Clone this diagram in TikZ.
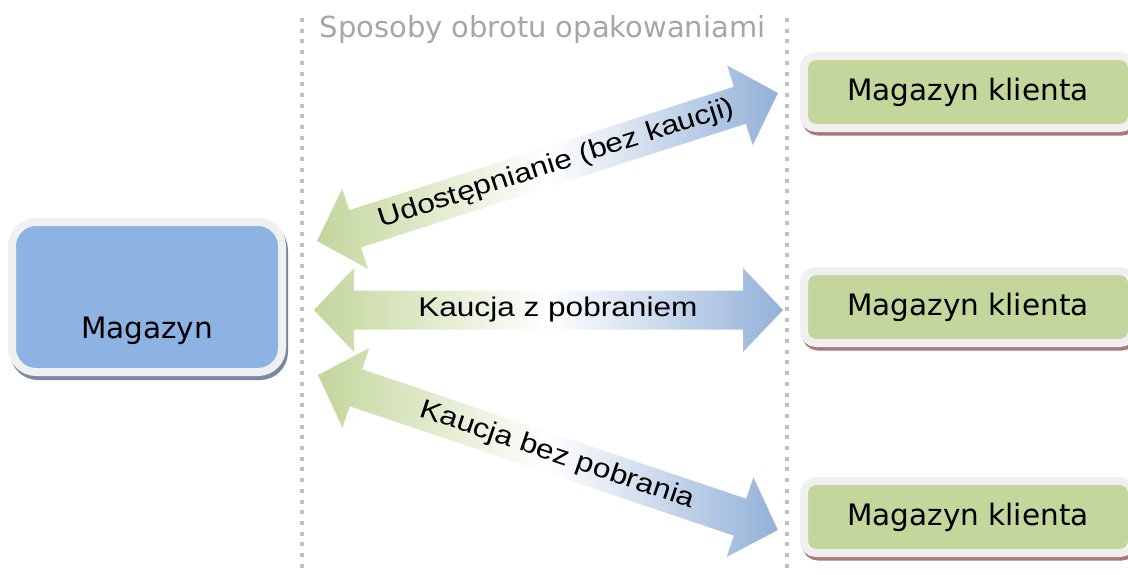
\documentclass[tikz,border=0pt]{standalone}
\usepackage{fontspec}
\setmainfont{DejaVu Sans}
\newfontfamily\opisfont[FakeStretch=1.17]{Liberation Sans}
\usetikzlibrary{calc,shadows}

\definecolor{zielony}{RGB}{195,214,155}
\definecolor{niebieski}{RGB}{141,179,226}
\definecolor{strzniebieski}{RGB}{147,177,216}
\definecolor{ramka}{RGB}{240,240,240}
\definecolor{cienniebieski}{RGB}{122,137,162}
\definecolor{cienczerwony}{RGB}{168,120,122}
\definecolor{kropka}{RGB}{192,192,192}
\definecolor{tytul}{RGB}{166,166,166}

% gruba strzalka w obie strony: poczatek, koniec, nazwa, opis
\newcommand\strzalka[4]{%
  \path let \p1=($(#2)-(#1)$) in \pgfextra{%
    \pgfmathsetmacro\kat{atan2(\y1,\x1)}\global\let\kat\kat
    \pgfmathsetmacro\dlug{veclen(\x1,\y1)}\global\let\dlug\dlug};
  \begin{scope}[shift={(#1)},rotate=\kat]
    \shade[strz] (0,0) -- (40,-42) -- (40,-19.5) -- (\dlug-40,-19.5)
      -- (\dlug-40,-42) -- (\dlug,0) -- (\dlug-40,42) -- (\dlug-40,19.5)
      -- (40,19.5) -- (40,42) -- cycle;
  \end{scope}
  \node[opis,rotate=\kat] (#3) at ($(#1)!0.52!(#2)$) {#4};
}

\begin{document}
\begin{tikzpicture}[x=1pt,y=-1pt,
    magazyn/.style={draw=ramka, line width=8pt, fill=niebieski,
      rounded corners=24pt, minimum width=270pt, minimum height=150pt,
      text height=82pt, text depth=0pt,
      font=\fontsize{29.5}{34}\selectfont,
      drop shadow={shadow xshift=2pt, shadow yshift=-4pt, opacity=1,
        fill=cienniebieski, draw=cienniebieski, line width=8pt}},
    klient/.style={draw=ramka, line width=8pt, fill=zielony,
      rounded corners=12pt, minimum width=328pt, minimum height=72pt,
      font=\fontsize{29.5}{34}\selectfont,
      drop shadow={shadow xshift=2pt, shadow yshift=-3.5pt, opacity=1,
        fill=cienczerwony, draw=cienczerwony, line width=8pt}},
    strz/.style={left color=zielony, right color=strzniebieski,
      middle color=white},
    opis/.style={font=\opisfont\fontsize{27}{32}\selectfont},
    kropki/.style={draw=kropka, line width=4pt, dash pattern=on 4pt off 6.7pt}]
  \useasboundingbox (0,0) rectangle (1128,574);

  % linie podzialu i tytul
  \draw[kropki] (302,18) -- (302,574);
  \draw[kropki] (787,18) -- (787,574);
  \node[text=tytul, font=\fontsize{29}{34}\selectfont, anchor=base]
    (tytul) at (542.5,37) {Sposoby obrotu opakowaniami};

  % magazyny
  \node[magazyn] (mag) at (147,297) {Magazyn};
  \node[klient] (kl1) at (968,92) {Magazyn klienta};
  \node[klient] (kl2) at (968,307) {Magazyn klienta};
  \node[klient] (kl3) at (968,517) {Magazyn klienta};

  % konce strzalek
  \coordinate (a1) at (317,241);
  \coordinate (b1) at (778,93);
  \coordinate (a2) at (314,310);
  \coordinate (b2) at (783,310);
  \coordinate (a3) at (318,375);
  \coordinate (b3) at (778,530);

  \strzalka{a1}{b1}{udost}{Udostępnianie (bez kaucji)}
  \strzalka{a2}{b2}{zpobr}{Kaucja z pobraniem}
  \strzalka{a3}{b3}{bezpobr}{Kaucja bez pobrania}
\end{tikzpicture}
\end{document}
